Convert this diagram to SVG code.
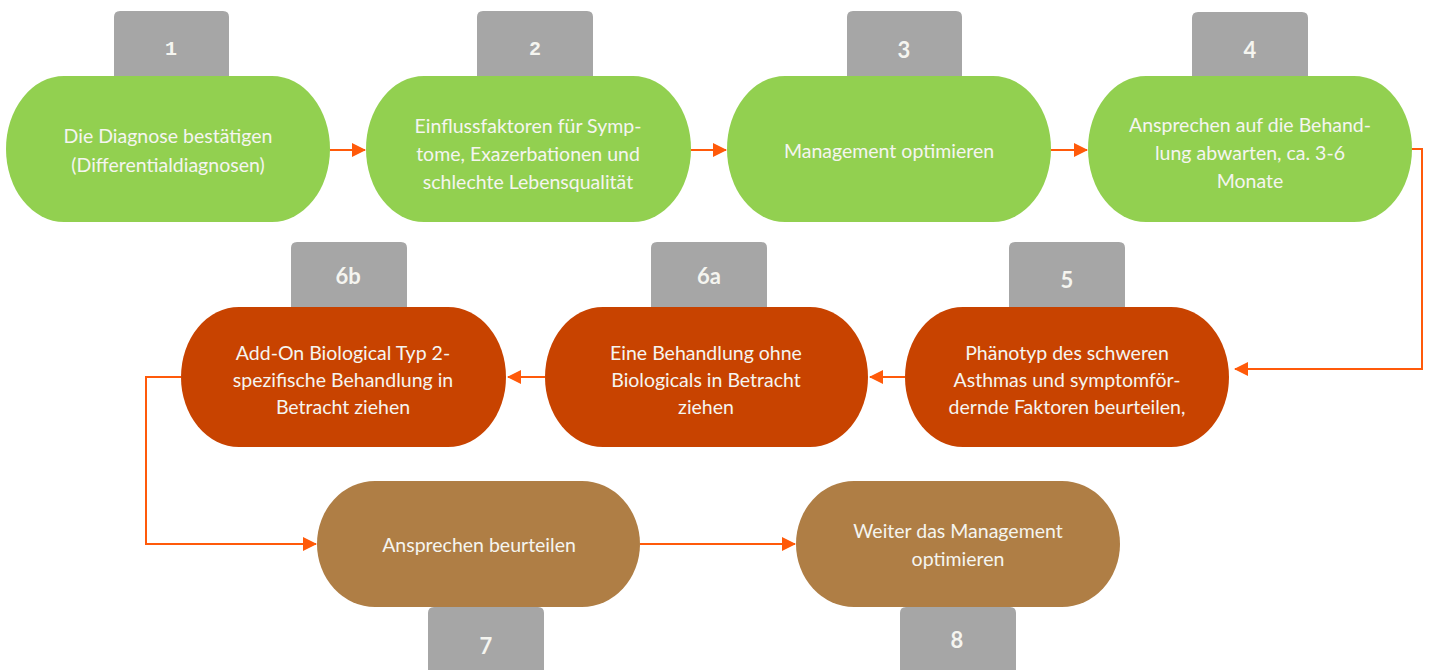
<svg xmlns="http://www.w3.org/2000/svg" width="1429" height="670" viewBox="0 0 1429 670">
<style>
.tab{fill:#A6A6A6}
.g{fill:#92D050}
.o{fill:#C84300}
.b{fill:#AF7E45}
.t{font-family:Lato,"Open Sans",sans-serif;font-size:19.5px;fill:#F5F5F0;text-anchor:middle}
.n{font-family:Lato,"Open Sans",sans-serif;font-size:22px;font-weight:bold;fill:#F5F5F0;text-anchor:middle}
.m{font-family:"Liberation Mono",monospace;font-size:20px;font-weight:bold;fill:#F5F5F0;text-anchor:middle}
.c{fill:none;stroke:#FF5A0A;stroke-width:2}
</style>
<defs>
<marker id="ah" markerWidth="14" markerHeight="14" refX="13" refY="7" orient="auto" markerUnits="userSpaceOnUse">
<path d="M0,0 L14,7 L0,14 Z" fill="#FF5A0A"/>
</marker>
</defs>
<g id="connectors">
<path class="c" d="M330,150 H365" marker-end="url(#ah)"/>
<path class="c" d="M691,150 H726" marker-end="url(#ah)"/>
<path class="c" d="M1051,150 H1087" marker-end="url(#ah)"/>
<path class="c" d="M1412,149 H1422 V369 H1235" marker-end="url(#ah)"/>
<path class="c" d="M905,377 H870" marker-end="url(#ah)"/>
<path class="c" d="M545,377 H508" marker-end="url(#ah)"/>
<path class="c" d="M181,377 H146 V544 H316" marker-end="url(#ah)"/>
<path class="c" d="M640,544 H795" marker-end="url(#ah)"/>
</g>
<g id="node1">
<path class="tab" d="M114,76 V17 Q114,11 120,11 H223 Q229,11 229,17 V76 Z"/>
<rect class="g" x="6" y="76" width="324" height="146" rx="58" ry="73"/>
<text class="m" x="171" y="55">1</text>
<text class="t" x="168" y="143">Die Diagnose bestätigen</text>
<text class="t" x="168" y="172">(Differentialdiagnosen)</text>
</g>
<g id="node2">
<path class="tab" d="M477,76 V17 Q477,11 483,11 H587 Q593,11 593,17 V76 Z"/>
<rect class="g" x="366" y="76" width="325" height="146" rx="58" ry="73"/>
<text class="m" x="535" y="55">2</text>
<text class="t" x="528" y="133">Einflussfaktoren für Symp-</text>
<text class="t" x="528" y="161">tome, Exazerbationen und</text>
<text class="t" x="528" y="189">schlechte Lebensqualität</text>
</g>
<g id="node3">
<path class="tab" d="M847,76 V17 Q847,11 853,11 H956 Q962,11 962,17 V76 Z"/>
<rect class="g" x="727" y="76" width="324" height="146" rx="58" ry="73"/>
<text class="n" x="904" y="58">3</text>
<text class="t" x="889" y="158">Management optimieren</text>
</g>
<g id="node4">
<path class="tab" d="M1192,76 V18 Q1192,12 1198,12 H1302 Q1308,12 1308,18 V76 Z"/>
<rect class="g" x="1088" y="76" width="324" height="146" rx="58" ry="73"/>
<text class="n" x="1250" y="58">4</text>
<text class="t" x="1250" y="132">Ansprechen auf die Behand-</text>
<text class="t" x="1250" y="160">lung abwarten, ca. 3-6</text>
<text class="t" x="1250" y="188">Monate</text>
</g>
<g id="node5">
<path class="tab" d="M1009,307 V248 Q1009,242 1015,242 H1119 Q1125,242 1125,248 V307 Z"/>
<rect class="o" x="905" y="307" width="324" height="140" rx="58" ry="70"/>
<text class="n" x="1067" y="288">5</text>
<text class="t" x="1067" y="360">Phänotyp des schweren</text>
<text class="t" x="1067" y="387">Asthmas und symptomför-</text>
<text class="t" x="1067" y="414">dernde Faktoren beurteilen,</text>
</g>
<g id="node6a">
<path class="tab" d="M651,307 V248 Q651,242 657,242 H761 Q767,242 767,248 V307 Z"/>
<rect class="o" x="545" y="307" width="323" height="140" rx="58" ry="70"/>
<text class="n" x="709" y="284">6a</text>
<text class="t" x="706" y="360">Eine Behandlung ohne</text>
<text class="t" x="706" y="387">Biologicals in Betracht</text>
<text class="t" x="706" y="414">ziehen</text>
</g>
<g id="node6b">
<path class="tab" d="M291,307 V248 Q291,242 297,242 H401 Q407,242 407,248 V307 Z"/>
<rect class="o" x="181" y="307" width="325" height="140" rx="58" ry="70"/>
<text class="n" x="348" y="284">6b</text>
<text class="t" x="343" y="360">Add-On Biological Typ 2-</text>
<text class="t" x="343" y="387">spezifische Behandlung in</text>
<text class="t" x="343" y="414">Betracht ziehen</text>
</g>
<g id="node7">
<path class="tab" d="M428,670 V613 Q428,607 434,607 H538 Q544,607 544,613 V670 Z"/>
<rect class="b" x="317" y="481" width="323" height="126" rx="58" ry="63"/>
<text class="n" x="486" y="654">7</text>
<text class="t" x="479" y="552">Ansprechen beurteilen</text>
</g>
<g id="node8">
<path class="tab" d="M900,670 V613 Q900,607 906,607 H1010 Q1016,607 1016,613 V670 Z"/>
<rect class="b" x="796" y="481" width="324" height="126" rx="58" ry="63"/>
<text class="n" x="957" y="648">8</text>
<text class="t" x="958" y="538">Weiter das Management</text>
<text class="t" x="958" y="566">optimieren</text>
</g>
</svg>
